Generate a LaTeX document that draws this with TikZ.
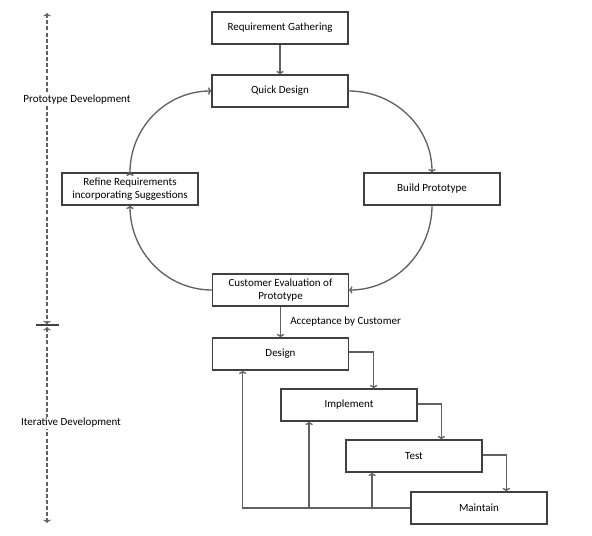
\documentclass[tikz,border=0pt]{standalone}
\usepackage{fontspec}
\setmainfont{Carlito}
\usepackage{xcolor}
\usetikzlibrary{arrows.meta}

\tikzset{
  stage/.style={rectangle, draw=black!75, align=center, minimum width=102pt, minimum height=24pt, inner sep=2pt},
  flow/.style={->, draw=black!62, line width=1pt},
  scale line/.style={<->, draw=black!62, line width=0.9pt, dash pattern=on 3pt off 1.6pt}
}

\begin{document}
\begin{tikzpicture}[x=0.75pt, y=-0.75pt, font=\fontsize{8.25}{10}\selectfont, line width=0.8pt,
      >={To[length=2.6pt, width=5.5pt]}]
      \useasboundingbox (0,0) rectangle (592,535);

      % prototyping loop
      \node[stage, name=gather] at (280,28) {Requirement Gathering};
      \node[stage, name=quick] at (280,91) {Quick Design};
      \node[stage, name=build] at (432,189) {Build Prototype};
      \node[stage, name=evaluate] at (280.5,290) {Customer Evaluation of\\Prototype};
      \node[stage, name=refine] at (130,189) {Refine Requirements\\incorporating Suggestions};

      % iterative part
      \node[stage, name=design] at (280.5,354) {Design};
      \node[stage, name=implement] at (349,405) {Implement};
      \node[stage, name=test] at (414,456) {Test};
      \node[stage, name=maintain] at (479,508) {Maintain};

      \path[flow]
         (gather) edge (quick)
         (quick.east) edge[out=0, in=90] (build.north)
         (build.south) edge[out=-90, in=0] (evaluate.east)
         (evaluate.west) edge[out=180, in=-90] (refine.south)
         (refine.north) edge[out=90, in=180] (quick.west)
         (evaluate) edge node[right=3.5pt] {Acceptance by Customer} (design);

      \draw[flow] ([yshift=1.5pt]design.east) -| ([xshift=18.5pt]implement.north);
      \draw[flow] ([yshift=0.7pt]implement.east) -| ([xshift=20.5pt]test.north);
      \draw[flow] ([yshift=0.7pt]test.east) -| ([xshift=20.5pt]maintain.north);

      % feedback lines
      \coordinate (up1) at ([xshift=23pt]design.south west);
      \coordinate (up2) at ([xshift=21.5pt]implement.south west);
      \coordinate (up3) at ([xshift=20pt]test.south west);
      \draw[flow] (maintain.west) -| (up1);
      \draw[flow] (up2 |- maintain.west) -- (up2);
      \draw[flow] (up3 |- maintain.west) -- (up3);

      % phase scale
      \coordinate (scaletop) at (47,13);
      \coordinate (scalemid) at (47,325);
      \coordinate (scalebot) at (47,523);
      \draw[scale line] (scaletop) -- ([yshift=0.6pt]scalemid);
      \draw[scale line] ([yshift=-1.5pt]scalemid) -- (scalebot);
      \draw[black!75] ([xshift=-8pt]scalemid) -- ([xshift=9pt]scalemid);
      \node[fill=white, inner sep=1pt, name=protolabel] at (77,100) {Prototype Development};
      \node[fill=white, inner sep=1pt, name=iterlabel] at (71,423) {Iterative Development};
   \end{tikzpicture}
\end{document}
